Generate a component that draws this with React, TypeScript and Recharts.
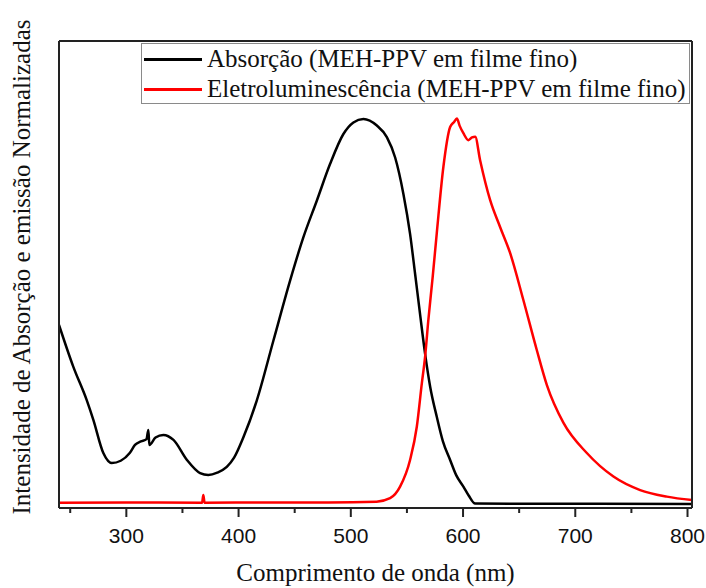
import React from 'react';
import { LineChart, Line, XAxis, YAxis, Legend, Label } from 'recharts';

const absWavelength = [240, 252.7, 264.7, 270.6, 279.5, 287, 295, 303, 307.7, 313, 318, 319.6, 320.5, 326, 333, 342, 354, 365.7, 373, 381, 389.5, 396, 404.3, 416.2, 431, 445.9, 457.7, 469.7, 481.5, 493.4, 502.3, 511.2, 523.2, 532.1, 539.5, 546.9, 552.8, 557.3, 561.7, 566.2, 570.7, 576.6, 582, 588.5, 594, 600.3, 605, 610.8, 804];
const absIntensity = [0.464, 0.356, 0.269, 0.218, 0.132, 0.106, 0.112, 0.132, 0.153, 0.162, 0.168, 0.192, 0.153, 0.172, 0.179, 0.166, 0.114, 0.08, 0.075, 0.081, 0.096, 0.12, 0.173, 0.268, 0.423, 0.579, 0.691, 0.786, 0.881, 0.959, 0.989, 0.998, 0.981, 0.951, 0.898, 0.803, 0.7, 0.596, 0.492, 0.389, 0.304, 0.226, 0.163, 0.114, 0.074, 0.045, 0.022, 0.001, 0];

const elWavelength = [240, 300, 367.5, 368.6, 369.7, 420, 480, 523, 535, 543.9, 552.8, 558.8, 563.3, 566.2, 569.1, 573, 576.6, 582.5, 588.5, 592, 594.5, 597, 600.3, 604.8, 608, 610.8, 615.2, 624.1, 633, 642, 653.8, 665.7, 674.7, 689.5, 710.3, 734, 757.8, 781.6, 804];
const elIntensity = [0.003, 0.004, 0.003, 0.023, 0.003, 0.004, 0.004, 0.006, 0.015, 0.045, 0.114, 0.2, 0.313, 0.382, 0.477, 0.59, 0.702, 0.874, 0.977, 0.99, 0.999, 0.98, 0.961, 0.943, 0.95, 0.952, 0.891, 0.788, 0.718, 0.65, 0.528, 0.399, 0.308, 0.21, 0.132, 0.071, 0.036, 0.019, 0.01];

const xTicks = [250, 300, 350, 400, 450, 500, 550, 600, 650, 700, 750, 800];

const absName = 'Absorção (MEH-PPV em filme fino)';
const elName = 'Eletroluminescência (MEH-PPV em filme fino)';

const absData = absWavelength.map((w, i) => ({ x: w, y: absIntensity[i] }));
const elData = elWavelength.map((w, i) => ({ x: w, y: elIntensity[i] }));

const SERIF = '"Liberation Serif", "Times New Roman", Times, serif';
const SANS = '"Liberation Sans", Arial, sans-serif';
const FRAME = '#222';

const renderTick = (props: any) => {
  const { x, y, payload } = props;
  const major = payload.value % 100 === 0;
  return (
    <g>
      <line x1={x} x2={x} y1={y} y2={y + (major ? 9 : 5)} stroke={FRAME} strokeWidth={2} />
      {major && (
        <text x={x} y={y + 35} textAnchor="middle" fontFamily={SANS} fontSize={21} fill="#111">
          {payload.value}
        </text>
      )}
    </g>
  );
};

const renderLegend = (props: any) => {
  const payload = props.payload || [];
  return (
    <div
      style={{
        boxSizing: 'border-box',
        width: 549,
        height: 61,
        border: '1px solid #8a8a8a',
        background: '#fff',
        fontFamily: SERIF,
        fontSize: 25,
        color: '#111',
        paddingLeft: 2,
      }}
    >
      {payload.map((e: any) => (
        <div key={e.value} style={{ display: 'flex', alignItems: 'center', height: 30, whiteSpace: 'nowrap' }}>
          <span
            style={{
              display: 'inline-block',
              flexShrink: 0,
              width: 58,
              height: 0,
              borderTop: `3px solid ${e.color}`,
              marginRight: 5,
            }}
          />
          <span style={{ flexShrink: 0 }}>{e.value}</span>
        </div>
      ))}
    </div>
  );
};

export default function App() {
  return (
    <div style={{ position: 'absolute', left: 0, top: 0, width: 706, height: 588, background: '#fff' }}>
      <LineChart width={706} height={588} margin={{ top: 40, right: 13, bottom: 0, left: 58 }}>
        <XAxis
          dataKey="x"
          type="number"
          domain={[240, 804]}
          allowDataOverflow
          ticks={xTicks}
          interval={0}
          tick={renderTick}
          tickLine={false}
          tickSize={0}
          tickMargin={0}
          height={80}
          axisLine={{ stroke: FRAME, strokeWidth: 2 }}
        >
          <Label
            content={() => (
              <text x={375.5} y={581} textAnchor="middle" fontFamily={SERIF} fontSize={25} fill="#111">
                Comprimento de onda (nm)
              </text>
            )}
          />
        </XAxis>
        <XAxis
          xAxisId="top"
          orientation="top"
          dataKey="x"
          type="number"
          domain={[240, 804]}
          allowDataOverflow
          height={1}
          tick={false}
          tickLine={false}
          axisLine={{ stroke: FRAME, strokeWidth: 2 }}
        />
        <YAxis
          type="number"
          domain={[-0.0105, 1.2]}
          allowDataOverflow
          width={1}
          tick={false}
          tickLine={false}
          axisLine={{ stroke: FRAME, strokeWidth: 2 }}
        >
          <Label
            content={() => (
              <text
                transform="translate(30,267) rotate(-90)"
                textAnchor="middle"
                fontFamily={SERIF}
                fontSize={25}
                fill="#111"
              >
                Intensidade de Absorção e emissão Normalizadas
              </text>
            )}
          />
        </YAxis>
        <YAxis
          yAxisId="right"
          orientation="right"
          type="number"
          domain={[-0.0105, 1.2]}
          allowDataOverflow
          width={1}
          tick={false}
          tickLine={false}
          axisLine={{ stroke: FRAME, strokeWidth: 2 }}
        />
        <Legend
          layout="horizontal"
          align="center"
          verticalAlign="middle"
          content={renderLegend}
          wrapperStyle={{ left: 141, top: 43, width: 549, height: 61 }}
        />
        <Line
          data={absData}
          dataKey="y"
          name={absName}
          type="monotone"
          stroke="#000"
          strokeWidth={2.5}
          dot={false}
          activeDot={false}
          isAnimationActive={false}
        />
        <Line
          data={elData}
          dataKey="y"
          name={elName}
          type="monotone"
          stroke="#ff0000"
          strokeWidth={2.5}
          dot={false}
          activeDot={false}
          isAnimationActive={false}
        />
      </LineChart>
    </div>
  );
}
